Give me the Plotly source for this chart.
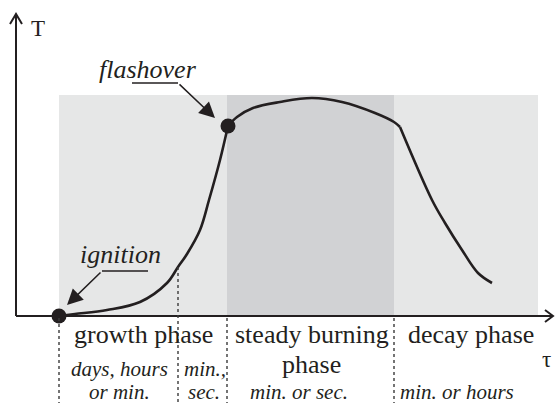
import plotly.graph_objects as go

# ---- data (tau, T in diagram units) ----
growth_tau = [43, 59, 91, 124, 151, 162, 171, 184, 193, 204, 212]
growth_T = [0, 2, 6, 14, 33, 49, 62, 86, 116, 156, 190]
steady_tau = [212, 221, 237, 264, 296, 326, 359, 378, 384]
steady_T = [190, 199, 208, 214, 218, 214, 203, 194, 189]
decay_tau = [384, 416, 429, 446, 462, 476]
decay_T = [189, 116, 93, 66, 43, 33]

ignition = (43, 0)
flashover = (212, 190)
phase_bounds = [43, 162, 211, 378, 522]   # growth start, min/sec split, steady start, decay start, end
shade_top = 221

phase_labels = ["growth phase", "steady burning", "phase", "decay phase"]
duration_labels = ["days, hours", "or min.", "min.,", "sec.", "min. or sec.", "min. or hours"]

INK = "#231f20"
LIGHT = "#e6e7e7"
DARK = "#d1d2d4"
SERIF = "Liberation Serif"

fig = go.Figure()

line_style = dict(color=INK, width=2.6, shape="spline", smoothing=1.0)
for tx, ty in [(growth_tau, growth_T), (steady_tau, steady_T), (decay_tau, decay_T)]:
    fig.add_trace(go.Scatter(x=tx, y=ty, mode="lines", line=line_style,
                             hoverinfo="skip", showlegend=False))

fig.add_trace(go.Scatter(x=[ignition[0], flashover[0]], y=[ignition[1], flashover[1]],
                         mode="markers", marker=dict(color=INK, size=15),
                         hoverinfo="skip", showlegend=False, cliponaxis=False))

shapes = []
# shaded phases
shapes.append(dict(type="rect", x0=phase_bounds[0], x1=phase_bounds[4], y0=0, y1=shade_top,
                   fillcolor=LIGHT, line=dict(width=0), layer="below"))
shapes.append(dict(type="rect", x0=phase_bounds[2], x1=phase_bounds[3], y0=0, y1=shade_top,
                   fillcolor=DARK, line=dict(width=0), layer="below"))
# axes
shapes.append(dict(type="line", x0=0, x1=0, y0=0, y1=302, line=dict(color=INK, width=2)))
shapes.append(dict(type="line", x0=0, x1=537, y0=0, y1=0, line=dict(color=INK, width=2)))
shapes.append(dict(type="path", path="M -6,292 L 0,302 L 6,292", line=dict(color=INK, width=2)))
shapes.append(dict(type="path", path="M 529,6 L 537,0 L 529,-6", line=dict(color=INK, width=2)))
# dotted phase separators
dot = dict(color="#3a3a3a", width=1.4, dash="dot")
shapes.append(dict(type="line", x0=phase_bounds[0], x1=phase_bounds[0], y0=-2, y1=-87, line=dot))
shapes.append(dict(type="line", x0=phase_bounds[1], x1=phase_bounds[1], y0=growth_T[5], y1=-87, line=dot))
shapes.append(dict(type="line", x0=phase_bounds[2], x1=phase_bounds[2], y0=-2, y1=-87, line=dot))
shapes.append(dict(type="line", x0=phase_bounds[3], x1=phase_bounds[3], y0=-2, y1=-87, line=dot))
# underlines of callouts
shapes.append(dict(type="line", x0=116, x1=162, y0=233, y1=233, line=dict(color=INK, width=1.5)))
shapes.append(dict(type="line", x0=86, x1=132, y0=45, y1=45, line=dict(color=INK, width=1.5)))

annotations = []
def txt(x, y, s, size, italic=False):
    annotations.append(dict(x=x, y=y, text=(f"<i>{s}</i>" if italic else s), showarrow=False,
                            xanchor="center", yanchor="middle",
                            font=dict(family=SERIF, size=size, color=INK)))

txt(22, 288, "T", 23)
txt(530, -43, "τ", 23)
txt(132, 247, "flashover", 26, True)
txt(104, 62, "ignition", 26, True)
txt(127.5, -18, phase_labels[0], 26)
txt(295.5, -18, phase_labels[1], 26)
txt(295.5, -48, phase_labels[2], 26)
txt(455, -18, phase_labels[3], 26)
txt(103, -53, duration_labels[0], 21, True)
txt(103, -76, duration_labels[1], 21, True)
txt(189, -53, duration_labels[2], 21, True)
txt(188, -76, duration_labels[3], 21, True)
txt(283, -76, duration_labels[4], 21, True)
txt(441, -76, duration_labels[5], 21, True)

# callout arrows
for (tipx, tipy, tailx, taily) in [(199, 198, 162, 233), (51, 11, 86, 45)]:
    annotations.append(dict(x=tipx, y=tipy, ax=tailx, ay=taily, xref="x", yref="y",
                            axref="x", ayref="y", text="", showarrow=True,
                            arrowhead=2, arrowsize=2.1, arrowwidth=1.5, arrowcolor=INK,
                            standoff=0, startstandoff=0))

fig.update_layout(
    width=555, height=403,
    margin=dict(l=0, r=0, t=0, b=0),
    paper_bgcolor="white", plot_bgcolor="white",
    xaxis=dict(range=[-16, 539], visible=False, fixedrange=True),
    yaxis=dict(range=[-87, 316], visible=False, fixedrange=True),
    shapes=shapes, annotations=annotations, showlegend=False,
)

fig.write_html("out.html",
               config={"displayModeBar": False, "staticPlot": True},
               post_script="document.body.style.margin='0';document.body.style.overflow='hidden';")
